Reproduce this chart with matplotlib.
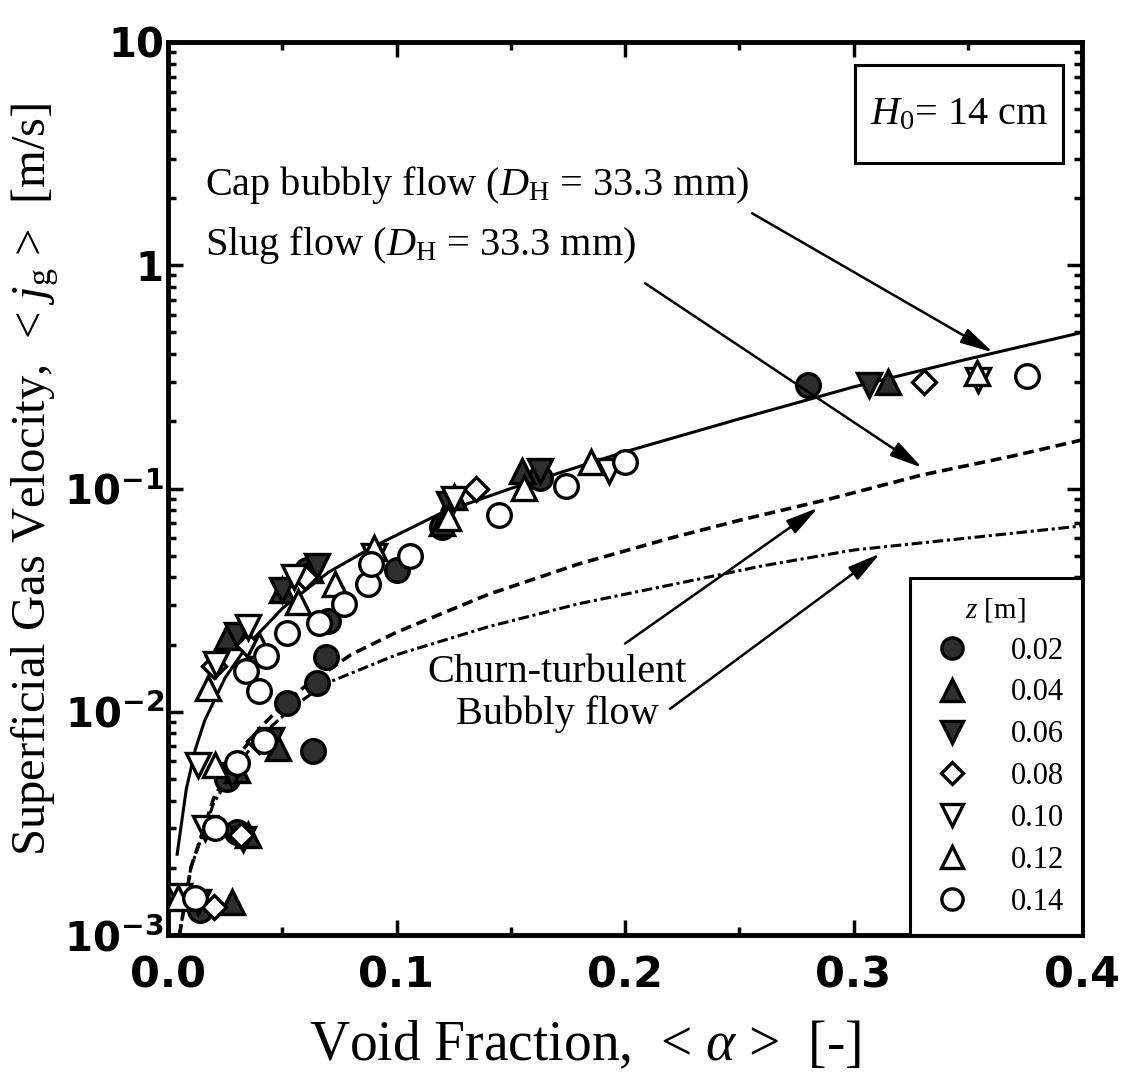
import matplotlib
matplotlib.use("Agg")
import matplotlib.pyplot as plt
from matplotlib.ticker import LogLocator, MultipleLocator, NullFormatter
from matplotlib.patches import Rectangle

plt.rcParams['font.family'] = ['Liberation Serif', 'DejaVu Serif']
plt.rcParams['mathtext.fontset'] = 'custom'
plt.rcParams['mathtext.rm'] = 'Liberation Serif'
plt.rcParams['mathtext.it'] = 'Liberation Serif:italic'
plt.rcParams['mathtext.bf'] = 'DejaVu Sans:bold'

# ---------------- data ----------------
z_labels = ["0.02", "0.04", "0.06", "0.08", "0.10", "0.12", "0.14"]

a_002 = [0.014, 0.030, 0.026, 0.0635, 0.052, 0.065, 0.069, 0.070, 0.061, 0.100, 0.120, 0.163, 0.280]
j_002 = [0.0013, 0.0029, 0.0050, 0.0067, 0.0110, 0.0134, 0.0176, 0.0256, 0.0430, 0.0430, 0.0670, 0.112, 0.290]

a_004 = [0.028, 0.035, 0.048, 0.030, 0.026, 0.050, 0.062, 0.120, 0.125, 0.155, 0.315]
j_004 = [0.0014, 0.0028, 0.0069, 0.0055, 0.0216, 0.0350, 0.0430, 0.0700, 0.0920, 0.120, 0.300]

a_006 = [0.013, 0.033, 0.028, 0.045, 0.030, 0.050, 0.065, 0.123, 0.163, 0.307]
j_006 = [0.0014, 0.0027, 0.0052, 0.0075, 0.0220, 0.0350, 0.0450, 0.0850, 0.120, 0.290]

a_008 = [0.020, 0.032, 0.040, 0.020, 0.035, 0.060, 0.135, 0.331]
j_008 = [0.00133, 0.0028, 0.0074, 0.0160, 0.0200, 0.0400, 0.100, 0.300]

a_010 = [0.005, 0.016, 0.013, 0.021, 0.035, 0.055, 0.090, 0.125, 0.193, 0.3545]
j_010 = [0.0015, 0.0030, 0.0058, 0.0164, 0.0240, 0.0400, 0.0500, 0.0900, 0.120, 0.305]

a_012 = [0.0045, 0.0205, 0.0175, 0.040, 0.057, 0.073, 0.090, 0.1225, 0.156, 0.185, 0.354]
j_012 = [0.00147, 0.0058, 0.0128, 0.0200, 0.0310, 0.0375, 0.0540, 0.0740, 0.101, 0.131, 0.328]

a_014 = [0.012, 0.0205, 0.030, 0.042, 0.040, 0.034, 0.043, 0.052, 0.066, 0.077, 0.0875,
         0.089, 0.106, 0.145, 0.174, 0.200, 0.376]
j_014 = [0.00147, 0.0030, 0.0059, 0.0074, 0.0124, 0.0152, 0.0178, 0.0226, 0.0250, 0.0305, 0.0375,
         0.0460, 0.0500, 0.0757, 0.103, 0.131, 0.320]

# model curves
cap_a = [0.004, 0.008, 0.012, 0.016, 0.025, 0.035, 0.05, 0.07, 0.09, 0.12, 0.15, 0.2, 0.25, 0.3, 0.35, 0.4]
cap_j = [0.0023, 0.0045, 0.0068, 0.0091, 0.0142, 0.020, 0.029, 0.042, 0.055, 0.078, 0.10, 0.146, 0.205, 0.285, 0.38, 0.50]

slug_a = [0.005, 0.01, 0.02, 0.03, 0.04, 0.05, 0.06, 0.08, 0.1, 0.14, 0.18, 0.22, 0.25, 0.29, 0.33, 0.37, 0.4]
slug_j = [0.001, 0.002, 0.0041, 0.0062, 0.0084, 0.0107, 0.013, 0.018, 0.0227, 0.0335, 0.046, 0.060, 0.072, 0.090, 0.115, 0.140, 0.165]

churn_a = [0.005, 0.01, 0.02, 0.03, 0.04, 0.05, 0.06, 0.07, 0.1, 0.14, 0.18, 0.22, 0.26, 0.3, 0.35, 0.4]
churn_j = [0.001, 0.002, 0.0039, 0.0057, 0.0077, 0.0095, 0.0115, 0.0135, 0.018, 0.024, 0.0305, 0.037, 0.045, 0.053, 0.060, 0.068]

y_ticks = [1e-3, 1e-2, 1e-1, 1, 10]
y_ticklabels = [r'$\mathbf{10^{-3}}$', r'$\mathbf{10^{-2}}$', r'$\mathbf{10^{-1}}$', '1', '10']
x_ticks = [0.0, 0.1, 0.2, 0.3, 0.4]
x_ticklabels = ['0.0', '0.1', '0.2', '0.3', '0.4']

# ---------------- figure ----------------
W, H = 1138, 1080
fig = plt.figure(figsize=(W / 100, H / 100), dpi=100)
ax = fig.add_axes([168 / W, 145 / H, 914 / W, 893 / H])
ax.set_yscale('log')
ax.set_xlim(0.0, 0.4)
ax.set_ylim(1e-3, 10)

FILL = '#2e2e2e'
ax.plot(cap_a, cap_j, '-', color='black', lw=2.2, zorder=2)
ax.plot(slug_a, slug_j, color='black', lw=2.6, dashes=(3, 1.6), zorder=2)
ax.plot(churn_a, churn_j, color='black', lw=2.2, dashes=(3.5, 1.2, 1, 1.2), zorder=2)

series = [
    (a_002, j_002, 'o', 17, FILL),
    (a_004, j_004, '^', 17, FILL),
    (a_006, j_006, 'v', 17, FILL),
    (a_008, j_008, 'D', 12, 'white'),
    (a_010, j_010, 'v', 17, 'white'),
    (a_012, j_012, '^', 17, 'white'),
    (a_014, j_014, 'o', 17, 'white'),
]
handles = []
for (a, j, m, ms, fc), lab in zip(series, z_labels):
    h, = ax.plot(a, j, linestyle='none', marker=m, markersize=ms, markerfacecolor=fc,
                 markeredgecolor='black', markeredgewidth=2.4, zorder=3, label=lab)
    handles.append(h)

# ticks
ax.set_xticks(x_ticks)
ax.set_xticklabels(x_ticklabels, fontfamily='DejaVu Sans', fontweight='bold', fontsize=31)
ax.xaxis.set_minor_locator(MultipleLocator(0.05))
ax.set_yticks(y_ticks)
ax.set_yticklabels(y_ticklabels, fontfamily='DejaVu Sans', fontweight='bold', fontsize=29)
ax.yaxis.set_minor_locator(LogLocator(base=10, subs=[2, 3, 4, 5, 6, 7, 8, 9], numticks=20))
ax.yaxis.set_minor_formatter(NullFormatter())
ax.tick_params(which='both', direction='in', top=True, right=True, width=2.5)
ax.tick_params(which='major', length=11)
ax.tick_params(which='minor', length=6)
ax.tick_params(axis='x', which='major', pad=14)
ax.tick_params(axis='y', which='major', pad=3)
for s in ax.spines.values():
    s.set_linewidth(3.5)

ax.set_xlabel(r'Void Fraction,  < $\alpha$ >  [-]', fontsize=40)
ax.xaxis.set_label_coords(0.456, -0.095)
ax.set_ylabel(r'Superficial Gas Velocity,  < $j_\mathrm{g}$ >  [m/s]', fontsize=35)
ax.yaxis.set_label_coords(-0.117, 0.51)

# H0 box
ax.add_patch(Rectangle((0.752, 0.8645), 0.2275, 0.1095, transform=ax.transAxes,
                       fill=False, edgecolor='black', lw=2.2, zorder=5))
ax.text(0.8655, 0.919, r'$H_0$= 14 cm', transform=ax.transAxes, ha='center', va='center',
        fontsize=29, zorder=6)

# annotations
fs_ann = 29
ax.text(0.0162, 2.28, r'Cap bubbly flow ($D_\mathrm{H}$ = 33.3 mm)', ha='left', va='center', fontsize=fs_ann)
ax.text(0.0162, 1.23, r'Slug flow ($D_\mathrm{H}$ = 33.3 mm)', ha='left', va='center', fontsize=fs_ann)
ax.text(0.1702, 0.01205, 'Churn-turbulent\nBubbly flow', ha='center', va='center', fontsize=fs_ann,
        linespacing=1.15)

arrow = dict(arrowstyle='-|>,head_length=0.9,head_width=0.22', lw=1.8, color='black',
             shrinkA=0, shrinkB=0, mutation_scale=22)
ax.annotate('', xy=(0.361, 0.407), xytext=(0.2556, 1.71), arrowprops=arrow)
ax.annotate('', xy=(0.330, 0.124), xytext=(0.2088, 0.83), arrowprops=arrow)
ax.annotate('', xy=(0.2845, 0.082), xytext=(0.200, 0.0202), arrowprops=arrow)
ax.annotate('', xy=(0.3116, 0.0511), xytext=(0.2197, 0.0103), arrowprops=arrow)

leg = ax.legend(handles=handles, title=r'$z$ [m]', loc='lower right', bbox_to_anchor=(1.0, 0.0),
                borderaxespad=0.0, fontsize=22, title_fontsize=21, frameon=True, fancybox=False,
                edgecolor='black', framealpha=1, labelspacing=0.42, handlelength=1.6,
                handletextpad=1.1, borderpad=0.6)
leg.get_frame().set_linewidth(2.2)
for h in leg.legend_handles:
    h.set_markersize(h.get_markersize() * 0.9)
leg.set_zorder(10)

fig.savefig('out.png', dpi=100)
